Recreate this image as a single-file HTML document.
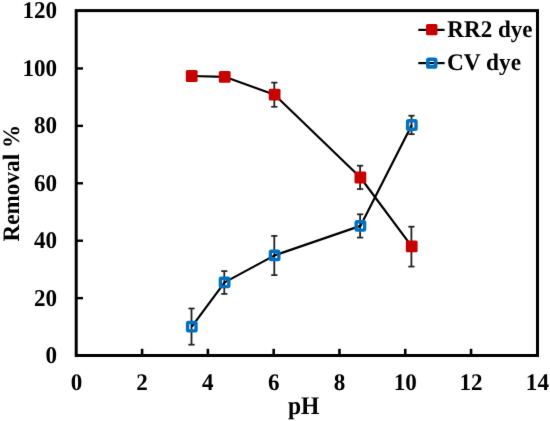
<!DOCTYPE html>
<html><head><meta charset="utf-8"><style>
html,body{margin:0;padding:0;background:#fff;overflow:hidden;width:550px;height:421px;}
svg{display:block;}
text{text-rendering:geometricPrecision;font-family:"Liberation Serif",serif;font-weight:bold;font-size:23.1px;fill:#000;}
</style></head><body>
<svg width="550" height="421" viewBox="0 0 550 421">
<defs><filter id="bl" x="0" y="0" width="550" height="421" filterUnits="userSpaceOnUse"><feConvolveMatrix order="3" kernelMatrix="0.00524 0.06192 0.00524 0.06192 0.73137 0.06192 0.00524 0.06192 0.00524" edgeMode="none"/></filter><filter id="gs" x="0" y="0" width="550" height="421" filterUnits="userSpaceOnUse"><feColorMatrix type="saturate" values="0"/></filter></defs>
<g filter="url(#bl)">
<rect x="76.2" y="10.6" width="461.3" height="344.9" fill="none" stroke="#000" stroke-width="3"/>
<line x1="76.2" y1="298.13" x2="83.00" y2="298.13" stroke="#000" stroke-width="2.4"/>
<line x1="76.2" y1="240.71" x2="83.00" y2="240.71" stroke="#000" stroke-width="2.4"/>
<line x1="76.2" y1="183.29" x2="83.00" y2="183.29" stroke="#000" stroke-width="2.4"/>
<line x1="76.2" y1="125.87" x2="83.00" y2="125.87" stroke="#000" stroke-width="2.4"/>
<line x1="76.2" y1="68.45" x2="83.00" y2="68.45" stroke="#000" stroke-width="2.4"/>
<line x1="142.10" y1="355.5" x2="142.10" y2="348.80" stroke="#000" stroke-width="2.6"/>
<line x1="207.89" y1="355.5" x2="207.89" y2="348.80" stroke="#000" stroke-width="2.6"/>
<line x1="273.67" y1="355.5" x2="273.67" y2="348.80" stroke="#000" stroke-width="2.6"/>
<line x1="339.46" y1="355.5" x2="339.46" y2="348.80" stroke="#000" stroke-width="2.6"/>
<line x1="405.25" y1="355.5" x2="405.25" y2="348.80" stroke="#000" stroke-width="2.6"/>
<line x1="471.04" y1="355.5" x2="471.04" y2="348.80" stroke="#000" stroke-width="2.6"/>
<line x1="274.30" y1="82.60" x2="274.30" y2="106.80" stroke="#202020" stroke-width="1.8"/>
<line x1="271.20" y1="82.60" x2="277.40" y2="82.60" stroke="#202020" stroke-width="1.7"/>
<line x1="271.20" y1="106.80" x2="277.40" y2="106.80" stroke="#202020" stroke-width="1.7"/>
<line x1="360.10" y1="165.70" x2="360.10" y2="189.10" stroke="#202020" stroke-width="1.8"/>
<line x1="357.00" y1="165.70" x2="363.20" y2="165.70" stroke="#202020" stroke-width="1.7"/>
<line x1="357.00" y1="189.10" x2="363.20" y2="189.10" stroke="#202020" stroke-width="1.7"/>
<line x1="411.40" y1="226.70" x2="411.40" y2="266.60" stroke="#202020" stroke-width="1.8"/>
<line x1="408.30" y1="226.70" x2="414.50" y2="226.70" stroke="#202020" stroke-width="1.7"/>
<line x1="408.30" y1="266.60" x2="414.50" y2="266.60" stroke="#202020" stroke-width="1.7"/>
<line x1="191.50" y1="308.50" x2="191.50" y2="344.70" stroke="#202020" stroke-width="1.8"/>
<line x1="188.40" y1="308.50" x2="194.60" y2="308.50" stroke="#202020" stroke-width="1.7"/>
<line x1="188.40" y1="344.70" x2="194.60" y2="344.70" stroke="#202020" stroke-width="1.7"/>
<line x1="224.30" y1="271.10" x2="224.30" y2="293.90" stroke="#202020" stroke-width="1.8"/>
<line x1="221.20" y1="271.10" x2="227.40" y2="271.10" stroke="#202020" stroke-width="1.7"/>
<line x1="221.20" y1="293.90" x2="227.40" y2="293.90" stroke="#202020" stroke-width="1.7"/>
<line x1="274.30" y1="235.90" x2="274.30" y2="275.10" stroke="#202020" stroke-width="1.8"/>
<line x1="271.20" y1="235.90" x2="277.40" y2="235.90" stroke="#202020" stroke-width="1.7"/>
<line x1="271.20" y1="275.10" x2="277.40" y2="275.10" stroke="#202020" stroke-width="1.7"/>
<line x1="360.10" y1="214.30" x2="360.10" y2="237.60" stroke="#202020" stroke-width="1.8"/>
<line x1="357.00" y1="214.30" x2="363.20" y2="214.30" stroke="#202020" stroke-width="1.7"/>
<line x1="357.00" y1="237.60" x2="363.20" y2="237.60" stroke="#202020" stroke-width="1.7"/>
<line x1="411.50" y1="115.70" x2="411.50" y2="134.20" stroke="#202020" stroke-width="1.8"/>
<line x1="408.40" y1="115.70" x2="414.60" y2="115.70" stroke="#202020" stroke-width="1.7"/>
<line x1="408.40" y1="134.20" x2="414.60" y2="134.20" stroke="#202020" stroke-width="1.7"/>
<polyline points="191.7,76.0 224.7,76.8 274.6,94.7 360.4,177.5 411.7,246.3" fill="none" stroke="#000" stroke-width="2.2" stroke-linejoin="round"/>
<polyline points="191.8,326.7 224.6,282.4 274.6,255.4 360.4,225.9 411.8,125.0" fill="none" stroke="#000" stroke-width="2.2" stroke-linejoin="round"/>
<rect x="185.80" y="70.10" width="11.8" height="11.8" rx="1.5" fill="#C80000"/>
<rect x="218.80" y="70.90" width="11.8" height="11.8" rx="1.5" fill="#C80000"/>
<rect x="268.70" y="88.80" width="11.8" height="11.8" rx="1.5" fill="#C80000"/>
<rect x="354.50" y="171.60" width="11.8" height="11.8" rx="1.5" fill="#C80000"/>
<rect x="405.80" y="240.40" width="11.8" height="11.8" rx="1.5" fill="#C80000"/>
<rect x="187.60" y="322.50" width="8.40" height="8.40" rx="0.8" fill="none" stroke="#0070C0" stroke-width="3.4"/>
<rect x="220.40" y="278.20" width="8.40" height="8.40" rx="0.8" fill="none" stroke="#0070C0" stroke-width="3.4"/>
<rect x="270.40" y="251.20" width="8.40" height="8.40" rx="0.8" fill="none" stroke="#0070C0" stroke-width="3.4"/>
<rect x="356.20" y="221.70" width="8.40" height="8.40" rx="0.8" fill="none" stroke="#0070C0" stroke-width="3.4"/>
<rect x="407.60" y="120.80" width="8.40" height="8.40" rx="0.8" fill="none" stroke="#0070C0" stroke-width="3.4"/>
<line x1="418.3" y1="29.9" x2="444.6" y2="29.9" stroke="#000" stroke-width="2.2"/>
<rect x="426.05" y="23.90" width="11.4" height="11.4" rx="1.5" fill="#C80000"/>
<line x1="418.3" y1="63.1" x2="444.6" y2="63.1" stroke="#000" stroke-width="2.2"/>
<rect x="427.90" y="59.25" width="7.70" height="7.70" rx="0.8" fill="none" stroke="#0070C0" stroke-width="3.7"/>
<g filter="url(#gs)">
<text transform="translate(57.10,363.06) scale(1.0,1.04)" text-anchor="end">0</text>
<text transform="translate(57.10,305.69) scale(1.0,1.04)" text-anchor="end">20</text>
<text transform="translate(57.10,248.27) scale(1.0,1.04)" text-anchor="end">40</text>
<text transform="translate(57.10,190.85) scale(1.0,1.04)" text-anchor="end">60</text>
<text transform="translate(57.10,133.43) scale(1.0,1.04)" text-anchor="end">80</text>
<text transform="translate(57.10,76.01) scale(1.0,1.04)" text-anchor="end">100</text>
<text transform="translate(57.10,18.16) scale(1.0,1.04)" text-anchor="end">120</text>
<text transform="translate(76.50,390.30) scale(1.0,1.03)" text-anchor="middle">0</text>
<text transform="translate(142.10,390.30) scale(1.0,1.03)" text-anchor="middle">2</text>
<text transform="translate(207.89,390.30) scale(1.0,1.03)" text-anchor="middle">4</text>
<text transform="translate(273.67,390.30) scale(1.0,1.03)" text-anchor="middle">6</text>
<text transform="translate(339.46,390.30) scale(1.0,1.03)" text-anchor="middle">8</text>
<text transform="translate(405.25,390.30) scale(1.0,1.03)" text-anchor="middle">10</text>
<text transform="translate(471.04,390.30) scale(1.0,1.03)" text-anchor="middle">12</text>
<text transform="translate(537.40,390.30) scale(1.0,1.03)" text-anchor="middle">14</text>
<text transform="translate(303.70,413.70) scale(1.02,1.1)" text-anchor="middle">pH</text>
<text transform="translate(18.65,183.20) rotate(-90) scale(1.004,1.02)" text-anchor="middle">Removal %</text>
<text transform="translate(447.30,36.65) scale(1.0,1.035)" text-anchor="start">RR2 dye</text>
<text transform="translate(446.90,69.80) scale(1.01,1.035)" text-anchor="start">CV dye</text>
</g>
</g>
</svg>
</body></html>
